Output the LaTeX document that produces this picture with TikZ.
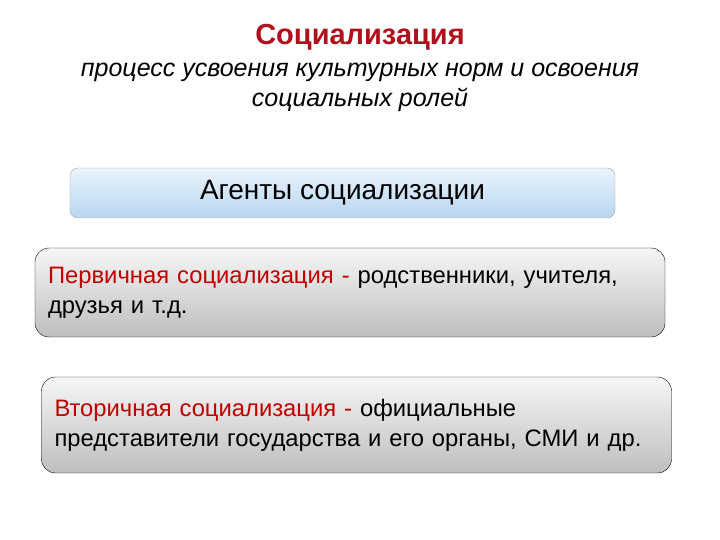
\documentclass[tikz,border=0pt]{standalone}
\usepackage{fontspec}
\setmainfont{Liberation Sans}
\usepackage{tikz}
\usetikzlibrary{positioning}
\definecolor{socred}{RGB}{192,0,0}
\definecolor{titred}{RGB}{176,16,28}
\definecolor{agtop}{RGB}{234,243,252}
\definecolor{agbot}{RGB}{184,214,242}
\definecolor{grtop}{RGB}{246,246,246}
\definecolor{grbot}{RGB}{190,190,190}

\begin{document}
\begin{tikzpicture}[x=1pt,y=-1pt]
\tikzset{agentbox/.style = {rounded corners=8pt,draw=gray!70,top color=agtop,bottom color=agbot,
  minimum width=545pt,minimum height=50pt,inner sep=0pt,font=\fontsize{28}{32}\selectfont}}
\tikzset{kindbox/.style = {rounded corners=14pt,draw=black,thin,top color=grtop,bottom color=grbot,
  text width=604pt,align=left,inner xsep=13pt,inner ysep=0pt,font=\fontsize{23.8}{30}\selectfont}}
\useasboundingbox (0,0) rectangle (720,540);
% title
\node (title) at (360,37) {\fontsize{29}{32}\selectfont\bfseries\color{titred}Социализация};
\node[align=center,font=\fontsize{25}{30}\selectfont\itshape] (def) at (360,87)
  {процесс усвоения культурных норм и освоения\\социальных ролей};
% boxes
\node[agentbox] (agents) at (342.5,193) {Агенты социализации};
\node[kindbox,minimum height=89pt] (prim) at (350,292.5)
  {\textcolor{socred}{Первичная социализация -} родственники, учителя,\\друзья и т.д.};
\node[kindbox,minimum height=96pt] (sec) at (356.5,425)
  {\textcolor{socred}{Вторичная социализация -} официальные\\представители государства и его органы, СМИ и др.};
\end{tikzpicture}
\end{document}
